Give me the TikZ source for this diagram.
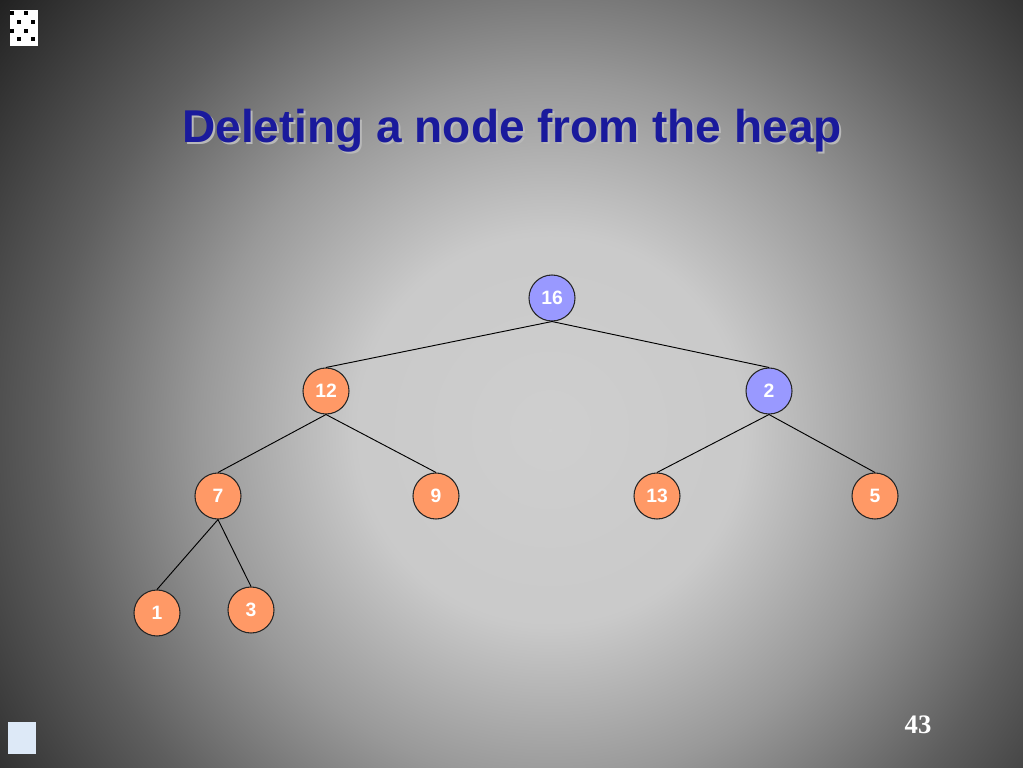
\documentclass[tikz,border=0pt]{standalone}
\usepackage{fontspec}
\setmainfont{Liberation Serif}
\setsansfont{Liberation Sans}
\definecolor{heapred}{HTML}{FF9966}
\definecolor{heapblue}{HTML}{9999FF}
\definecolor{titleblue}{HTML}{1A1A9C}
\definecolor{iconblue}{HTML}{DDE9F7}
\pgfdeclareradialshading{bgglow}{\pgfpoint{0bp}{0bp}}{%
  color(0bp)=(black!19); color(7bp)=(black!21); color(12.5bp)=(black!40);
  color(18bp)=(black!63); color(25bp)=(black!87); color(50bp)=(black!87)}
\tikzset{
  heapnode/.style={circle,draw=black!85,line width=0.8pt,fill=heapred,
    minimum size=34.5pt,inner sep=0pt,text=white,
    font=\sffamily\bfseries\fontsize{14.5}{16}\selectfont},
  moved/.style={heapnode,fill=heapblue},
  edge/.style={black,line width=0.7pt}
}
\begin{document}
\begin{tikzpicture}[x=0.75pt,y=-0.75pt]
\useasboundingbox (0,0) rectangle (1023,767);
\clip (0,0) rectangle (1023,767);
\shade[shading=bgglow] (550,430) circle (700);
%
\fill[white] (10,10) rectangle (38,46);
\foreach \x/\y in {10/11,24/11,17/20,31/20,10/29,24/29,17/37,31/37}
  \fill[black] (\x,\y) rectangle ++(4,4);
\fill[iconblue] (8,722) rectangle (36,754);
%
\node[font=\sffamily\bfseries\fontsize{34.5}{40}\selectfont,text=black!28]
  at (514,133) {Deleting a node from the heap};
\node[font=\sffamily\bfseries\fontsize{34.5}{40}\selectfont,text=titleblue]
  (title) at (512,131) {Deleting a node from the heap};
\node[font=\bfseries\fontsize{20}{24}\selectfont,text=white] (page) at (918,725) {43};
%
\node[moved] (n16) at (552,298) {16};
\node[heapnode] (n12) at (326,391) {12};
\node[moved] (n2) at (769,391) {2};
\node[heapnode] (n7) at (218,496) {7};
\node[heapnode] (n9) at (436,496) {9};
\node[heapnode] (n13) at (657,496) {13};
\node[heapnode] (n5) at (875,496) {5};
\node[heapnode] (n1) at (157,613) {1};
\node[heapnode] (n3) at (251,610) {3};
%
\foreach \a/\b in {n16/n12,n16/n2,n12/n7,n12/n9,n2/n13,n2/n5,n7/n1,n7/n3}
  \draw[edge] (\a.south)--(\b.north);
\end{tikzpicture}
\end{document}
